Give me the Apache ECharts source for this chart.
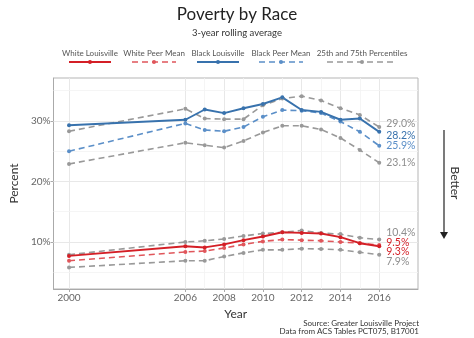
<!DOCTYPE html>
<html>
<head>
<meta charset="utf-8">
<script src="https://cdn.jsdelivr.net/npm/echarts@6/dist/echarts.min.js"></script>
<style>
html,body{margin:0;padding:0;background:#fff;}
#chart{width:474px;height:338px;}
</style>
</head>
<body>
<div id="chart"></div>
<script>
// ---- data ----
var years = [2000, 2006, 2007, 2008, 2009, 2010, 2011, 2012, 2013, 2014, 2015, 2016];
var blackLouisville = [29.3, 30.2, 31.9, 31.3, 32.1, 32.8, 33.9, 31.8, 31.5, 30.2, 30.4, 28.2];
var blackPeerMean   = [25.0, 29.6, 28.5, 28.3, 29.0, 30.7, 31.8, 31.7, 31.3, 29.9, 28.2, 25.9];
var black75th       = [28.3, 32.0, 30.4, 30.3, 30.3, 32.6, 33.7, 34.1, 33.4, 32.1, 31.0, 29.0];
var black25th       = [22.9, 26.4, 26.0, 25.6, 26.7, 28.1, 29.2, 29.2, 28.6, 27.2, 25.2, 23.1];
var whiteLouisville = [7.7, 9.3, 9.1, 9.6, 10.3, 10.9, 11.6, 11.5, 11.4, 10.8, 9.8, 9.3];
var whitePeerMean   = [6.9, 8.35, 8.5, 9.0, 9.6, 10.1, 10.4, 10.3, 10.2, 10.0, 9.8, 9.5];
var white75th       = [7.9, 10.0, 10.2, 10.5, 11.0, 11.4, 11.6, 11.9, 11.5, 11.3, 10.7, 10.4];
var white25th       = [5.8, 6.9, 6.9, 7.6, 8.2, 8.7, 8.7, 8.9, 8.85, 8.7, 8.3, 7.9];
var xTickLabels = [2000, 2006, 2008, 2010, 2012, 2014, 2016];
var xMinorGrid = [2007, 2009, 2011, 2013, 2015];
var yTickLabels = [10, 20, 30];
var yMinorGrid = [5, 15, 25, 35];
var legendNames = ['White Louisville', 'White Peer Mean', 'Black Louisville', 'Black Peer Mean', '25th and 75th Percentiles'];

// ---- styles ----
var RED = '#d41f26', RED_D = '#e0565b', BLUE = '#3872ad', BLUE_D = '#5b8fc8', GRAY = '#999999';
var FONT = 'Lato, "Open Sans", sans-serif';

function mkSeries(name, vals, color, dashed, labelColor, labelDy) {
  var data = years.map(function (y, i) {
    var item = { value: [y, vals[i]] };
    if (i === years.length - 1) {
      item.label = {
        show: true, position: 'right', distance: 5, offset: [0, labelDy],
        formatter: vals[i].toFixed(1) + '%', color: labelColor,
        fontFamily: FONT, fontSize: 10.5
      };
    }
    return item;
  });
  return {
    name: name, type: 'line', data: data, z: 5,
    symbol: 'circle', symbolSize: 4, showSymbol: true,
    itemStyle: { color: color },
    lineStyle: { color: color, width: dashed ? 1.6 : 1.9, type: dashed ? [6, 4] : 'solid' },
    emphasis: { disabled: true }, silent: true, animation: false
  };
}

var gridLines = [];
xTickLabels.forEach(function (v) { gridLines.push({ xAxis: v, lineStyle: { color: '#e8e8e8', width: 1, type: 'solid' } }); });
xMinorGrid.forEach(function (v) { gridLines.push({ xAxis: v, lineStyle: { color: '#f3f3f3', width: 0.8, type: 'solid' } }); });
yTickLabels.forEach(function (v) { gridLines.push({ yAxis: v, lineStyle: { color: '#e8e8e8', width: 1, type: 'solid' } }); });
yMinorGrid.forEach(function (v) { gridLines.push({ yAxis: v, lineStyle: { color: '#f3f3f3', width: 0.8, type: 'solid' } }); });

var series = [
  { type: 'line', data: [], z: 1, silent: true, animation: false,
    markLine: { silent: true, symbol: ['none', 'none'], label: { show: false }, animation: false, data: gridLines } },
  mkSeries('Black 75th', black75th, GRAY, true, '#8e8e8e', -3),
  mkSeries('Black 25th', black25th, GRAY, true, '#8e8e8e', 0),
  mkSeries('Black Peer Mean', blackPeerMean, BLUE_D, true, BLUE_D, 0),
  mkSeries('Black Louisville', blackLouisville, BLUE, false, BLUE, 4),
  mkSeries('White 75th', white75th, GRAY, true, '#8e8e8e', -7),
  mkSeries('White 25th', white25th, GRAY, true, '#8e8e8e', 7),
  mkSeries('White Peer Mean', whitePeerMean, RED_D, true, RED, -2.5),
  mkSeries('White Louisville', whiteLouisville, RED, false, RED, 5.5)
];

// ---- legend (text above key, ggplot style) ----
var legendCenters = [90, 154, 218, 281, 362];
var legendHalf = [21, 22, 21, 22, 35];
var legendColors = [RED, RED_D, BLUE, BLUE_D, GRAY];
var legendDashed = [false, true, false, true, true];
var graphics = [];
legendNames.forEach(function (n, i) {
  var cx = legendCenters[i], hw = legendHalf[i];
  graphics.push({ type: 'text', silent: true, x: cx, y: 53,
    style: { text: n, fill: '#555', font: '8px ' + FONT, textAlign: 'center', textVerticalAlign: 'middle' } });
  graphics.push({ type: 'line', silent: true,
    shape: { x1: cx - hw, y1: 62, x2: cx + hw, y2: 62 },
    style: { stroke: legendColors[i], lineWidth: legendDashed[i] ? 1.6 : 1.9, lineDash: legendDashed[i] ? [6, 4] : null } });
  graphics.push({ type: 'circle', silent: true, shape: { cx: cx, cy: 62, r: 2 }, style: { fill: legendColors[i] } });
});
// Better arrow
graphics.push({ type: 'line', silent: true, shape: { x1: 444, y1: 130, x2: 444, y2: 233 }, style: { stroke: '#222', lineWidth: 1.2 } });
graphics.push({ type: 'polygon', silent: true, shape: { points: [[440, 232], [448, 232], [444, 239]] }, style: { fill: '#222' } });
graphics.push({ type: 'text', silent: true, x: 455, y: 183, rotation: -Math.PI / 2,
  style: { text: 'Better', fill: '#333', font: '12px ' + FONT, textAlign: 'center', textVerticalAlign: 'middle' } });
// Source
graphics.push({ type: 'text', silent: true, x: 419, y: 323,
  style: { text: 'Source: Greater Louisville Project', fill: '#333', font: '8px ' + FONT, textAlign: 'right', textVerticalAlign: 'middle' } });
graphics.push({ type: 'text', silent: true, x: 419, y: 331,
  style: { text: 'Data from ACS Tables PCT075, B17001', fill: '#333', font: '8px ' + FONT, textAlign: 'right', textVerticalAlign: 'middle' } });

var chart = echarts.init(document.getElementById('chart'), null, { renderer: 'canvas' });
chart.setOption({
  animation: false,
  backgroundColor: '#fff',
  title: [
    { text: 'Poverty by Race', left: 'center', top: 1, textStyle: { fontFamily: FONT, fontSize: 17, fontWeight: 'normal', color: '#222' } },
    { text: '3-year rolling average', left: 'center', top: 23, textStyle: { fontFamily: FONT, fontSize: 9.5, fontWeight: 'normal', color: '#333' } }
  ],
  grid: { left: 41, right: 56, top: 78, bottom: 49, show: true, borderColor: '#b5b5b5', borderWidth: 1, backgroundColor: 'transparent' },
  xAxis: {
    type: 'value', min: 1999.2, max: 2018,
    name: 'Year', nameLocation: 'middle', nameGap: 17,
    nameTextStyle: { fontFamily: FONT, fontSize: 12, color: '#333' },
    axisLine: { show: true, lineStyle: { color: '#aaa' } },
    axisTick: { show: true, length: 3, lineStyle: { color: '#aaa' }, customValues: xTickLabels },
    axisLabel: { fontFamily: FONT, fontSize: 10, color: '#666', margin: 4, customValues: xTickLabels, formatter: function (v) { return String(v); } },
    splitLine: { show: false }
  },
  yAxis: {
    type: 'value', min: 2.23, max: 37.1,
    name: 'Percent', nameLocation: 'middle', nameGap: 25,
    nameTextStyle: { fontFamily: FONT, fontSize: 12, color: '#333' },
    axisLine: { show: true, lineStyle: { color: '#aaa' } },
    axisTick: { show: true, length: 3, lineStyle: { color: '#aaa' }, customValues: yTickLabels },
    axisLabel: { fontFamily: FONT, fontSize: 10, color: '#666', margin: 3, customValues: yTickLabels, formatter: function (v) { return v + '%'; } },
    splitLine: { show: false }
  },
  graphic: graphics,
  series: series
});
</script>
</body>
</html>
